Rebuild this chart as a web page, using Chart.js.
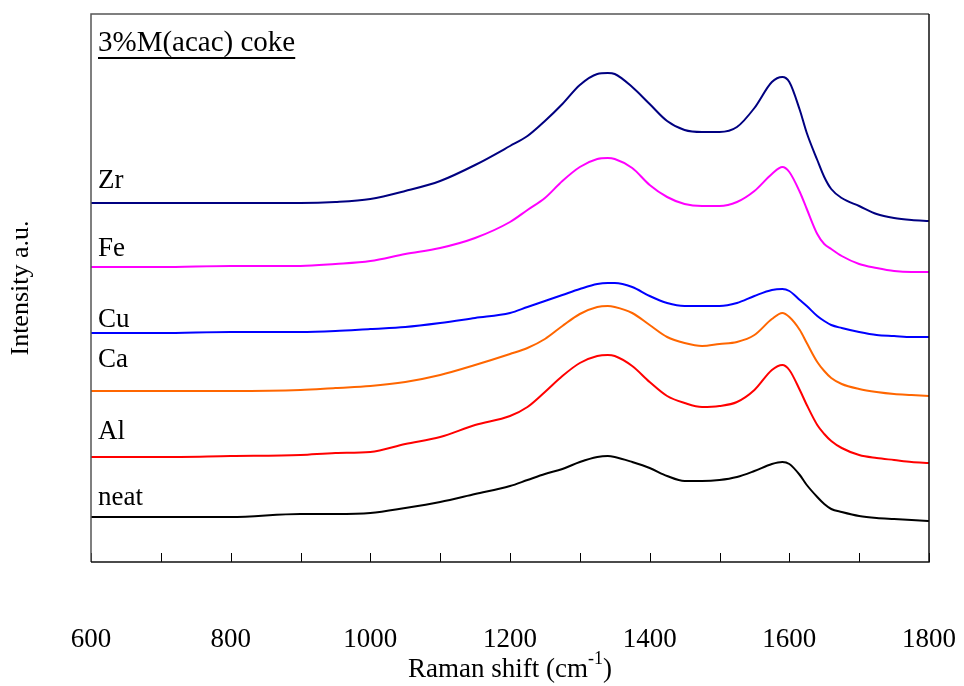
<!DOCTYPE html>
<html lang="en">
  <head>
    <meta charset="UTF-8" />
    <title>Raman spectra of 3%M(acac) coke</title>
    <style>
      html, body {
        margin: 0;
        padding: 0;
        background: #fff;
      }
    </style>
  </head>
  <body>
    <canvas id="raman" width="964" height="686"></canvas>

    <script src="https://cdn.jsdelivr.net/npm/chart.js"></script>
    <script>
      // Raman shift (cm-1) sample points
      const shift = [600, 700, 800, 900, 950, 1000, 1050, 1100, 1150, 1200, 1225, 1250, 1275, 1300, 1325, 1340, 1350, 1375, 1400, 1425, 1450, 1475, 1500, 1525, 1550, 1575, 1590, 1600, 1615, 1625, 1640, 1650, 1660, 1675, 1700, 1725, 1750, 1775, 1800];

      // stacked intensities (a.u.), each spectrum offset upward
      const zr = [359, 359, 359, 359, 360, 363, 371, 381, 397, 416, 426, 441, 458, 477, 488, 489, 488, 475, 458, 441, 432, 430, 430, 435, 454, 480, 485, 480, 452, 429, 402, 385, 373, 364, 356, 348, 344, 342, 341];
      const fe = [295, 295, 296, 296, 298, 301, 308, 314, 324, 340, 352, 364, 381, 395, 403, 404, 403, 394, 377, 365, 358, 356, 356, 360, 371, 388, 395, 390, 370, 353, 328, 318, 313, 306, 298, 294, 291, 290, 290];
      const cu = [229, 229, 230, 230, 231, 233, 235, 239, 244, 249, 255, 261, 267, 273, 278, 279, 279, 275, 266, 259, 256, 256, 256, 259, 266, 272, 273, 271, 262, 256, 246, 241, 237, 234, 230, 227, 226, 225, 225];
      const ca = [171, 171, 171, 172, 174, 176, 180, 187, 197, 208, 214, 223, 236, 248, 255, 256, 255, 249, 237, 225, 219, 216, 218, 220, 227, 243, 249, 245, 232, 219, 200, 191, 184, 178, 173, 170, 168, 167, 166];
      const al = [105, 105, 106, 107, 109, 110, 118, 125, 137, 146, 155, 170, 186, 199, 206, 207, 206, 196, 180, 166, 159, 155, 156, 160, 172, 192, 197, 192, 172, 157, 137, 128, 121, 114, 107, 104, 102, 100, 99];
      const neat = [45, 45, 45, 48, 48, 49, 54, 60, 68, 76, 82, 88, 93, 100, 105, 106, 105, 100, 94, 86, 81, 81, 82, 85, 91, 98, 100, 98, 87, 77, 65, 58, 53, 50, 46, 44, 43, 42, 41];

      const sampleNames = ["Zr", "Fe", "Cu", "Ca", "Al", "neat"];
      const xTickLabels = [600, 800, 1000, 1200, 1400, 1600, 1800];

      const serif = "'Liberation Serif', 'DejaVu Serif', serif";

      function toPoints(ys) {
        return ys.map((y, i) => ({ x: shift[i], y: y }));
      }

      const series = [
        { name: sampleNames[0], data: zr, color: "#000080", labelAt: 381 },
        { name: sampleNames[1], data: fe, color: "#ff00ff", labelAt: 313 },
        { name: sampleNames[2], data: cu, color: "#0000ff", labelAt: 242 },
        { name: sampleNames[3], data: ca, color: "#ff6600", labelAt: 202 },
        { name: sampleNames[4], data: al, color: "#ff0000", labelAt: 130 },
        { name: sampleNames[5], data: neat, color: "#000000", labelAt: 64 },
      ];

      // frame, inward ticks, sample names, x title with superscript
      const decorations = {
        id: "decorations",
        afterDatasetsDraw(chart) {
          const { ctx, chartArea: a, scales } = chart;
          const x = scales.x;
          const y = scales.y;
          ctx.save();

          // inward tick marks every 100 cm-1
          ctx.strokeStyle = "#000";
          ctx.lineWidth = 1;
          for (let v = 600; v <= 1800; v += 100) {
            const px = Math.round(x.getPixelForValue(v)) + 0.5;
            ctx.beginPath();
            ctx.moveTo(px, a.bottom);
            ctx.lineTo(px, a.bottom - 9);
            ctx.stroke();
          }

          // plot frame
          ctx.lineWidth = 1.5;
          ctx.strokeStyle = "#555";
          ctx.beginPath();
          ctx.moveTo(a.left, a.bottom);
          ctx.lineTo(a.left, a.top);
          ctx.lineTo(a.right, a.top);
          ctx.stroke();
          ctx.strokeStyle = "#111";
          ctx.beginPath();
          ctx.moveTo(a.right, a.top);
          ctx.lineTo(a.right, a.bottom);
          ctx.lineTo(a.left, a.bottom);
          ctx.stroke();

          // sample names beside each trace
          ctx.fillStyle = "#000";
          ctx.font = "27px " + serif;
          ctx.textAlign = "left";
          ctx.textBaseline = "middle";
          series.forEach((s) => {
            ctx.fillText(s.name, a.left + 7, y.getPixelForValue(s.labelAt));
          });

          // heading, underlined
          ctx.font = "29px " + serif;
          const head = "3%M(acac) coke";
          const hx = a.left + 7;
          const hy = a.top + 29;
          ctx.fillText(head, hx, hy);
          const hw = ctx.measureText(head).width;
          ctx.lineWidth = 2;
          ctx.strokeStyle = "#000";
          ctx.beginPath();
          ctx.moveTo(hx, hy + 15);
          ctx.lineTo(hx + hw, hy + 15);
          ctx.stroke();

          // x axis title: Raman shift (cm^-1)
          const base = "Raman shift (cm";
          const sup = "-1";
          const tail = ")";
          ctx.font = "27px " + serif;
          const w1 = ctx.measureText(base).width;
          const w3 = ctx.measureText(tail).width;
          ctx.font = "18px " + serif;
          const w2 = ctx.measureText(sup).width;
          const cx = (a.left + a.right) / 2;
          let tx = cx - (w1 + w2 + w3) / 2;
          const ty = 677;
          ctx.textBaseline = "alphabetic";
          ctx.font = "27px " + serif;
          ctx.fillText(base, tx, ty);
          tx += w1;
          ctx.font = "18px " + serif;
          ctx.fillText(sup, tx, ty - 13);
          tx += w2;
          ctx.font = "27px " + serif;
          ctx.fillText(tail, tx, ty);

          ctx.restore();
        },
      };

      const ctx = document.getElementById("raman");
      const chart = new Chart(ctx, {
        type: "line",
        data: {
          datasets: series.map((s) => ({
            label: s.name,
            data: toPoints(s.data),
            borderColor: s.color,
            borderWidth: 2,
            pointRadius: 0,
            fill: false,
            cubicInterpolationMode: "monotone",
          })),
        },
        options: {
          responsive: false,
          animation: false,
          maintainAspectRatio: false,
          layout: { padding: { left: 0, right: 35, top: 14, bottom: 0 } },
          plugins: {
            legend: { display: false },
            tooltip: { enabled: false },
          },
          scales: {
            x: {
              type: "linear",
              min: 600,
              max: 1800,
              afterFit(scale) {
                scale.height = 124;
                scale.paddingLeft = 0;
                scale.paddingRight = 0;
              },
              grid: { display: false, drawTicks: false },
              border: { display: false },
              ticks: {
                stepSize: 200,
                padding: 62,
                color: "#000",
                maxRotation: 0,
                font: { family: serif, size: 27 },
                callback: (v) => (xTickLabels.includes(v) ? String(v) : ""),
              },
            },
            y: {
              type: "linear",
              min: 0,
              max: 548,
              afterFit(scale) {
                scale.width = 91;
                scale.paddingTop = 0;
                scale.paddingBottom = 0;
              },
              grid: { display: false, drawTicks: false },
              border: { display: false },
              ticks: { display: false },
              title: {
                display: true,
                text: "Intensity a.u.",
                color: "#000",
                padding: { top: 6, bottom: 0 },
                font: { family: serif, size: 26, weight: "normal" },
              },
            },
          },
        },
        plugins: [decorations],
      });
    </script>
  </body>
</html>
